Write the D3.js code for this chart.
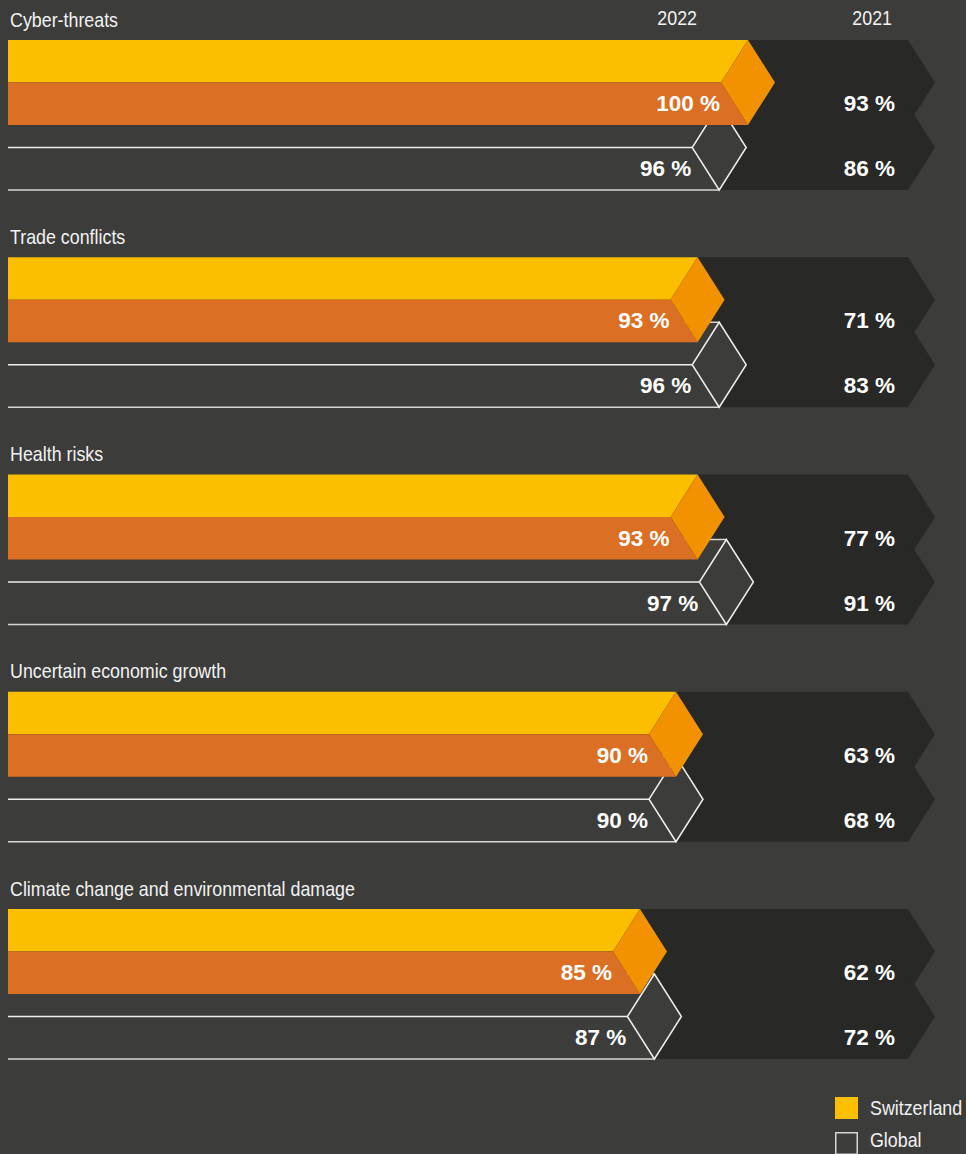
<!DOCTYPE html>
<html>
<head>
<meta charset="utf-8">
<script src="https://cdn.jsdelivr.net/npm/d3@7/dist/d3.min.js"></script>
<style>
  html, body { margin: 0; padding: 0; background: #3c3c3b; }
  svg { display: block; }
  .cat, .year, .legend { font-family: "Liberation Sans", Arial, sans-serif; font-size: 21px; fill: #f2f2f2; }
  .val { font-family: "Liberation Sans", Arial, sans-serif; font-weight: bold; font-size: 22.5px; fill: #ffffff; }
</style>
</head>
<body>
<script>
// Share of respondents naming each risk (%)
const categories = [
  "Cyber-threats",
  "Trade conflicts",
  "Health risks",
  "Uncertain economic growth",
  "Climate change and environmental damage"
];
const swiss2022  = [100, 93, 93, 90, 85];
const global2022 = [96, 96, 97, 90, 87];
const swiss2021  = [93, 71, 77, 63, 62];
const global2021 = [86, 83, 91, 68, 72];
const years = ["2022", "2021"];
const seriesNames = ["Switzerland", "Global"];

const W = 966, H = 1154;
const colors = {
  bg: "#3c3c3b",
  dark: "#282827",
  yellow: "#fcbf00",
  orange: "#db6f23",
  facet: "#f39200",
  line: "#eeeeee"
};

const svg = d3.select("body").append("svg")
  .attr("width", W).attr("height", H);

svg.append("rect").attr("width", W).attr("height", H).attr("fill", colors.bg);

// value -> x of the bar's top-right corner
const x = d3.scaleLinear().domain([0, 100]).range([28, 748]);
// group index -> top of the Switzerland band
const y = d3.scaleBand().domain(d3.range(categories.length)).range([40, 40 + 217.25 * categories.length]).paddingInner(0).align(0);

const left = 8;          // bars start at the panel edge
const bandH = 85;        // height of one bar band
const half = bandH / 2;
const tipW = 27;         // horizontal reach of the slanted facet
const globalOff = 65;    // Global band starts this far below the Swiss band
const arrowX = 908;      // right edge of the 2021 panel
const yearLabelX = 895;
const labelGap = 1;      // gap between a value label and the facet
const squeeze = 0.85;    // horizontal compression for the condensed captions

// places a caption at (px, py) in a horizontally condensed form
function condensed(sel, px, py) {
  return sel.attr("x", 0).attr("y", 0)
    .attr("transform", (d, i) => {
      const X = typeof px === "function" ? px(d, i) : px;
      const Y = typeof py === "function" ? py(d, i) : py;
      return `translate(${X},${Y}) scale(${squeeze},1)`;
    });
}

const rows = categories.map((c, i) => ({
  cat: c,
  s22: swiss2022[i], g22: global2022[i],
  s21: swiss2021[i], g21: global2021[i],
  y0: y(i)
}));

const line = d3.line();

const g = svg.selectAll("g.row").data(rows).join("g").attr("class", "row")
  .attr("transform", d => `translate(0,${d.y0})`);

// category titles
condensed(g.append("text").attr("class", "cat"), 10, -13.5)
  .text(d => d.cat);

// dark 2021 panel: two stacked chevrons
[0, globalOff].forEach(off => {
  g.append("path")
    .attr("d", line([
      [left, off], [arrowX, off], [arrowX + tipW, off + half],
      [arrowX, off + bandH], [left, off + bandH]
    ]) + "Z")
    .attr("fill", colors.dark);
});

// ---- Global 2022 (outlined) ----
const gl = g.append("g").attr("transform", `translate(0,${globalOff})`);
gl.append("path")
  .attr("d", d => line([
    [left, 0], [x(d.g22), 0], [x(d.g22) + tipW, half],
    [x(d.g22), bandH], [left, bandH]
  ]) + "Z")
  .attr("fill", colors.bg);
// horizontal edges
gl.append("path")
  .attr("d", d => line([[left, 0], [x(d.g22), 0]]))
  .attr("stroke", "#d6d6d6").attr("stroke-width", 1.5).attr("fill", "none");
gl.append("path")
  .attr("d", d => line([[left, half], [x(d.g22) - tipW, half]]))
  .attr("stroke", colors.line).attr("stroke-width", 1.5).attr("fill", "none");
gl.append("path")
  .attr("d", d => line([[left, bandH], [x(d.g22), bandH]]))
  .attr("stroke", "#d6d6d6").attr("stroke-width", 1.5).attr("fill", "none");
// facet
gl.append("path")
  .attr("d", d => line([
    [x(d.g22), 0], [x(d.g22) + tipW, half], [x(d.g22), bandH], [x(d.g22) - tipW, half]
  ]) + "Z")
  .attr("fill", colors.bg)
  .attr("stroke", colors.line).attr("stroke-width", 1.5).attr("stroke-linejoin", "miter");

// ---- Switzerland 2022 (filled) ----
const sw = g.append("g");
sw.append("path")
  .attr("d", d => line([
    [left, 0], [x(d.s22), 0], [x(d.s22) - tipW, half], [left, half]
  ]) + "Z")
  .attr("fill", colors.yellow);
sw.append("path")
  .attr("d", d => line([
    [left, half], [x(d.s22) - tipW, half], [x(d.s22), bandH], [left, bandH]
  ]) + "Z")
  .attr("fill", colors.orange);
sw.append("path")
  .attr("d", d => line([
    [x(d.s22), 0], [x(d.s22) + tipW, half], [x(d.s22), bandH], [x(d.s22) - tipW, half]
  ]) + "Z")
  .attr("fill", colors.facet);

// value labels
const pct = v => `${v} %`;
g.append("text").attr("class", "val").attr("text-anchor", "end")
  .attr("x", d => x(d.s22) - tipW - labelGap).attr("y", 71)
  .text(d => pct(d.s22));
g.append("text").attr("class", "val").attr("text-anchor", "end")
  .attr("x", d => x(d.g22) - tipW - labelGap).attr("y", globalOff + 71)
  .text(d => pct(d.g22));
g.append("text").attr("class", "val").attr("text-anchor", "end")
  .attr("x", yearLabelX).attr("y", 71)
  .text(d => pct(d.s21));
g.append("text").attr("class", "val").attr("text-anchor", "end")
  .attr("x", yearLabelX).attr("y", globalOff + 71)
  .text(d => pct(d.g21));

// year headings
condensed(svg.append("text").attr("class", "year").attr("text-anchor", "end"), 697, 25)
  .text(years[0]);
condensed(svg.append("text").attr("class", "year").attr("text-anchor", "end"), 892, 25)
  .text(years[1]);

// legend
const lg = svg.append("g").attr("transform", "translate(835,1097)");
lg.append("rect").attr("width", 23).attr("height", 22).attr("fill", colors.yellow);
lg.append("rect").attr("x", 0.75).attr("y", 35.75).attr("width", 21.5).attr("height", 21.5)
  .attr("fill", "none").attr("stroke", "#d6d6d6").attr("stroke-width", 1.5);
condensed(lg.append("text").attr("class", "legend"), 35, 18).text(seriesNames[0]);
condensed(lg.append("text").attr("class", "legend"), 35, 50).text(seriesNames[1]);
</script>
</body>
</html>
